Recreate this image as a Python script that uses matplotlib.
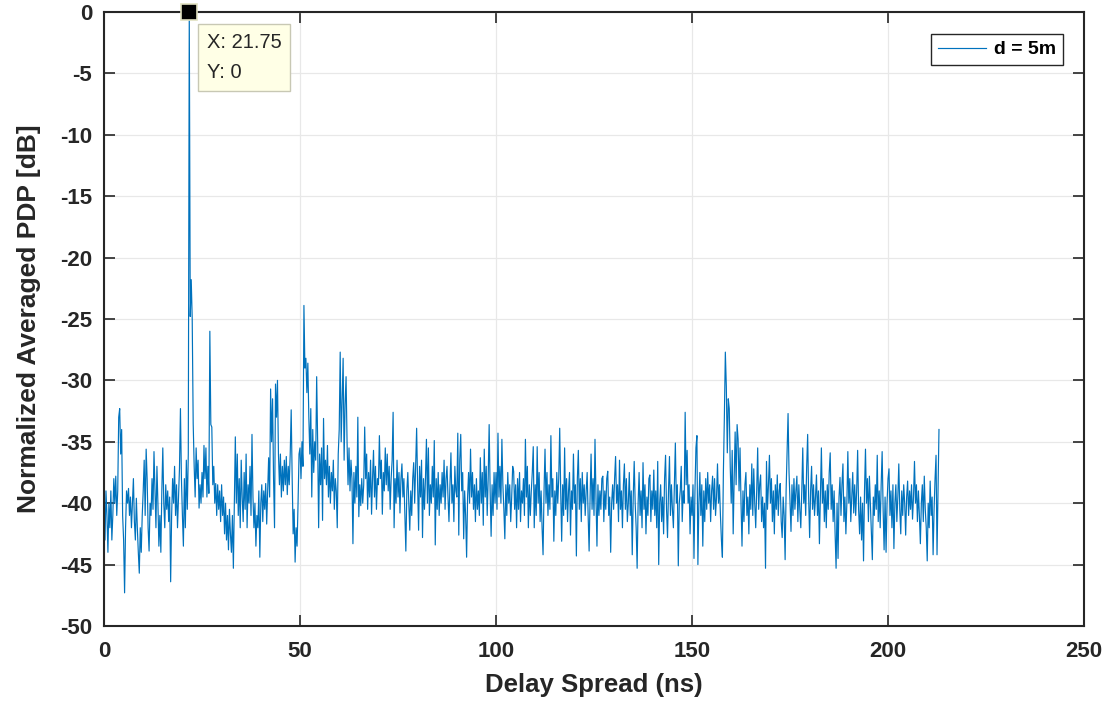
import numpy as np
import matplotlib
matplotlib.use('Agg')
import matplotlib.pyplot as plt

plt.rcParams['font.family'] = ['Liberation Sans', 'DejaVu Sans']
plt.rcParams['axes.unicode_minus'] = False

# normalized averaged PDP [dB], one sample every 0.25 ns in 10 ns blocks
pdp_000 = [-41, -43, -39, -41, -44, -40, -42, -39, -43, -41,
           -38, -40, -37.8, -41, -39, -33, -32.3, -36, -34, -41,
           -43, -47.3, -42, -39, -40, -38.8, -41, -39.5, -42, -40,
           -38, -41.5, -43, -39.6, -42, -44, -45.7, -42, -44, -41]
pdp_010 = [-39, -36.5, -41, -35.6, -38, -42, -43.9, -40, -41, -38,
           -40.5, -35.8, -39, -42, -37, -40, -43.5, -41, -44, -39,
           -35.5, -40, -42, -38.5, -40.5, -39, -41.5, -39.5, -46.4, -41,
           -38, -40, -37, -41, -38.5, -42, -39.5, -37.2, -32.3, -38]
pdp_020 = [-41, -43.5, -38, -42, -36.5, -40.5, -36, 0, -24.8, -21.8,
           -25, -33.5, -37, -39.5, -35.5, -38, -36.5, -40.4, -38.5, -40,
           -37.5, -39.5, -35.3, -38, -35.5, -39.5, -37, -39.2, -26, -33.6,
           -33.8, -38.5, -37, -40, -38.4, -41, -38.5, -40.5, -39, -41.5]
pdp_030 = [-38.5, -41, -39.5, -42.5, -40, -43, -41, -43.8, -40.5, -42.5,
           -44, -41, -45.3, -40, -34.6, -40, -36, -41, -38, -42,
           -36.5, -39.5, -41.5, -37.5, -40.5, -36, -42, -38.5, -40, -37,
           -41, -34.4, -39.5, -42, -40, -43.5, -41, -42, -39, -44.4]
pdp_040 = [-40, -38.5, -41.5, -39, -40.5, -38.4, -41.7, -39, -36.3, -39.5,
           -30.7, -35, -31.5, -38, -42, -30.3, -33, -30, -36, -38.5,
           -36, -39.5, -37, -39, -36.5, -38.5, -36.2, -39.3, -37, -38.5,
           -36, -32.4, -38, -42.5, -40.5, -44.8, -42, -43.5, -40, -36]
pdp_050 = [-35.5, -38, -35, -37, -23.9, -29, -28.2, -31, -28.6, -33,
           -36, -32.3, -39.5, -34, -37.5, -35, -36.5, -29.7, -35, -42,
           -36, -38.5, -35.5, -41.4, -33.1, -38, -36.5, -38.5, -35.3, -39.5,
           -37, -40, -37.5, -39, -36.5, -40.5, -38, -39, -42, -36]
pdp_060 = [-34, -27.7, -35, -31.5, -28.2, -36.5, -32, -29.7, -35, -38.5,
           -35.5, -39, -36.5, -38, -43.3, -37.5, -40, -37, -39.5, -33,
           -41.1, -38.5, -40.2, -38, -40, -38.5, -33.8, -38, -36, -40.5,
           -37.5, -39.5, -36.5, -40.9, -38, -35.7, -39.5, -37, -40.5, -38]
pdp_070 = [-38.5, -34.5, -38, -36.5, -40.9, -37.5, -39, -35.5, -38.5, -36,
           -39, -37, -40.5, -38, -36.5, -32.6, -42, -38, -40, -36.5,
           -39.5, -37.5, -40.8, -38, -36.8, -39.5, -38, -41, -43.9, -39,
           -37.5, -40, -42.2, -39, -41, -38, -36.7, -40, -37, -33.9]
pdp_080 = [-38.5, -42.2, -37, -39.5, -36.5, -42.8, -38, -40.5, -38, -34.8,
           -40, -35.5, -41, -38.5, -40, -37, -39.5, -34.9, -43.4, -38,
           -40.5, -37.5, -41, -38.5, -40, -37.5, -39.5, -36.5, -40.5, -38,
           -37, -39.5, -41.5, -38.5, -35.9, -40, -38.5, -41.5, -37, -39]
pdp_090 = [-39.5, -34.3, -42.6, -36.5, -34.4, -39, -37.5, -42.9, -39, -41,
           -44.4, -39.5, -37.5, -40, -35.6, -39.5, -37.5, -40.5, -38.5, -41.5,
           -38, -40.5, -39, -41, -36.3, -40, -37.5, -41.8, -35.6, -39.5,
           -37, -41, -38, -33.6, -39, -42.7, -38.5, -41, -37.5, -40]
pdp_100 = [-37.5, -40.5, -34.3, -39.5, -37, -40, -34.8, -38.5, -40.5, -42.9,
           -38.5, -41, -37.5, -40, -38.5, -41.5, -39.5, -37, -37.4, -40.5,
           -38.5, -42, -38, -40.5, -37.5, -41.5, -39, -40, -38, -41,
           -34.8, -39.5, -37, -42, -38.5, -41, -39, -37.5, -35.4, -42]
pdp_110 = [-38.5, -41, -35.4, -40, -37.5, -41.5, -39, -42, -44.2, -39,
           -35.6, -40, -37.5, -41, -38.5, -40.5, -34.5, -39.5, -38, -43.1,
           -39, -41, -37.5, -40, -38, -33.9, -39, -43.1, -38.5, -41,
           -35.5, -40.5, -38, -41.5, -39, -37.5, -42.6, -39, -40.5, -36]
pdp_120 = [-40, -38.5, -44.3, -38, -35.7, -40.5, -38, -41.5, -37.5, -40,
           -38.5, -41, -39, -37.5, -41, -43.9, -39.5, -36, -40.5, -38,
           -41, -34.8, -39.5, -43.5, -38.5, -41, -39, -40.5, -38, -37.8,
           -41.5, -39, -40.5, -38, -37.4, -41, -39.5, -44, -40, -38.5]
pdp_130 = [-40.5, -38, -36.2, -40, -38.5, -41.5, -36.5, -40.5, -39, -42,
           -38.5, -36.8, -40.5, -38, -41.5, -40, -37.5, -41, -39, -44.2,
           -39.5, -36.6, -40, -42, -45.3, -40, -37.5, -41, -39, -42,
           -36.7, -40.5, -38.5, -42.5, -39.5, -41, -38, -37.7, -41.5, -39]
pdp_140 = [-40.5, -37.3, -41, -39, -42, -36.6, -45, -40, -38.5, -41.5,
           -39.5, -42.5, -38, -36.1, -40.5, -42.8, -39, -36.2, -41, -38.5,
           -40.5, -42, -38.5, -35.1, -40, -38.5, -45.1, -40, -39, -37,
           -41.5, -39, -40, -32.6, -38.5, -35.7, -40, -38.5, -42.5, -39.5]
pdp_150 = [-41, -38.5, -44.5, -39, -35.5, -34.5, -45, -40, -37.5, -41,
           -38.5, -43.5, -39, -41.5, -38, -40.5, -37.5, -40, -38.5, -41.5,
           -39, -37.8, -40.5, -38, -41, -39.5, -36.8, -40, -38.5, -41,
           -43, -44.4, -37.5, -33, -27.7, -30.5, -35.9, -31.5, -32.3, -37]
pdp_160 = [-40, -35.7, -42.5, -38, -34.2, -38.5, -33.6, -34.8, -39, -35.5,
           -40, -43.5, -39, -41.5, -38.5, -37.5, -41, -39.5, -42.5, -38.5,
           -40.5, -36.8, -41, -37.2, -40, -42, -39, -35.5, -40.5, -38.5,
           -37.7, -41.5, -39.5, -42, -40, -45.3, -36.6, -40.5, -38.5, -36.1]
pdp_170 = [-40, -38, -41.5, -39, -42.5, -38.5, -40.5, -37.7, -41, -39,
           -38.4, -41.5, -42.8, -39.5, -41, -44.6, -39, -36, -32.7, -37.5,
           -40, -42.3, -38.5, -41, -38, -40.5, -39, -37.8, -41.5, -38.5,
           -40.5, -42, -39, -35.5, -40, -38.5, -41, -37, -34.4, -39.5]
pdp_180 = [-42.8, -39, -37, -40.5, -38.5, -41, -39.5, -37.7, -41, -39,
           -43.3, -39.5, -35.5, -40, -38, -41.5, -39, -42, -38.5, -40.5,
           -37.5, -35.9, -40.5, -38.5, -41.5, -39, -42.5, -45.3, -40, -44.5,
           -39.5, -37.9, -41, -38.5, -36.8, -41.5, -39.5, -42.5, -40, -35.8]
pdp_190 = [-40, -38, -41.5, -39.5, -37.5, -40.8, -38.5, -41, -39, -35.7,
           -40.5, -42.5, -39.5, -43, -40, -44.7, -39, -35.6, -40, -38,
           -41.5, -37.8, -40, -42, -44.6, -39.5, -41, -38.5, -40.5, -36.1,
           -41.5, -39, -42, -38.5, -35.8, -40.5, -43.8, -39.5, -44, -40]
pdp_200 = [-38, -37.2, -41, -39, -42, -38.5, -43.7, -40, -38.5, -41.5,
           -39.5, -36.8, -40.5, -42.5, -39, -41, -38.5, -40, -42.6, -39.5,
           -38.2, -41, -39, -40.5, -38.5, -41.3, -39.5, -36.6, -40, -38.5,
           -41.5, -39, -41, -43.3, -40, -38.5, -41.5, -37.8, -40.5, -42,
           -44.7, -40, -42, -38.2, -41, -39.5, -44.2, -40.5, -38, -36.1,
           -44.2, -39, -34]

step_ns = 0.25
tip_x = 21.75
tip_y = 0
legend_label = 'd = 5m'

pdp_db = np.concatenate([pdp_000, pdp_010, pdp_020, pdp_030, pdp_040, pdp_050,
                         pdp_060, pdp_070, pdp_080, pdp_090, pdp_100, pdp_110,
                         pdp_120, pdp_130, pdp_140, pdp_150, pdp_160, pdp_170,
                         pdp_180, pdp_190, pdp_200])
delay_ns = np.arange(len(pdp_db)) * step_ns

dark = '#262626'

fig = plt.figure(figsize=(11.1, 7.01), dpi=100)
ax = fig.add_axes([0.0937, 0.107, 0.8829, 0.876])
ax.plot(delay_ns, pdp_db, color='#0072BD', lw=0.85, label=legend_label)

ax.set_xlim(0, 250)
ax.set_ylim(-50, 0)
ax.set_xticks(range(0, 251, 50))
ax.set_yticks(range(-50, 1, 5))
ax.grid(True, color='#e8e8e8', lw=0.9)
ax.set_axisbelow(True)
ax.tick_params(direction='in', length=8, width=1.2, top=True, right=True,
               labelsize=16, colors=dark)
ax.tick_params(axis='x', pad=11)
ax.tick_params(axis='y', pad=8.5)
for lbl in ax.get_xticklabels() + ax.get_yticklabels():
    lbl.set_fontweight('bold')
for s in ax.spines.values():
    s.set_linewidth(1.5)
    s.set_color(dark)

ax.set_xlabel('Delay Spread (ns)', fontsize=18.5, fontweight='bold', color=dark, labelpad=8)
ax.set_ylabel('Normalized Averaged PDP [dB]', fontsize=19, fontweight='bold', color=dark, labelpad=14)

leg = ax.legend(loc='upper right', bbox_to_anchor=(0.9786, 0.964), borderaxespad=0,
                prop={'size': 14, 'weight': 'bold'}, fancybox=False, framealpha=1,
                edgecolor=dark, handlelength=2.5, handletextpad=0.4, borderpad=0.35)
leg.get_frame().set_linewidth(1.0)

# data tip
ax.plot(tip_x, tip_y, 's', ms=12, mfc='black', mec='#e0e0c0', mew=1.2, clip_on=False, zorder=6)
ax.annotate('X: %g\nY: %g' % (tip_x, tip_y), xy=(tip_x, tip_y), xytext=(12.5, -15),
            textcoords='offset points', ha='left', va='top', fontsize=14.5, color=dark,
            linespacing=1.75, zorder=7,
            bbox=dict(boxstyle='square,pad=0.45', fc='#ffffe6', ec='#c8c8b4', lw=1))

fig.savefig('out.png', dpi=100)
